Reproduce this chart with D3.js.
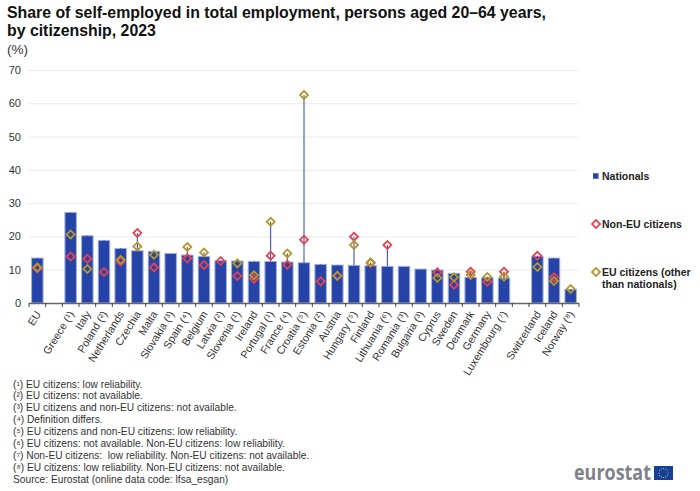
<!DOCTYPE html>
<html><head><meta charset="utf-8">
<script src="https://d3js.org/d3.v7.min.js"></script>
<style>html,body{margin:0;padding:0;background:#fff}svg{display:block}text{font-family:"Liberation Sans",Arial,sans-serif;white-space:pre}</style>
</head><body><svg id="c" width="700" height="491"></svg>
<script>
const categories=["EU","","Greece (¹)","Italy","Poland (²)","Netherlands","Czechia","Malta","Slovakia (³)","Spain (⁴)","Belgium","Latvia (²)","Slovenia (¹)","Ireland","Portugal (¹)","France (⁴)","Croatia (⁵)","Estonia (²)","Austria","Hungary (⁵)","Finland","Lithuania (⁶)","Romania (³)","Bulgaria (³)","Cyprus","Sweden","Denmark","Germany","Luxembourg (⁷)"," ","Switzerland","Iceland","Norway (⁸)"];
const nationals=[13.5,null,27.2,20.2,18.8,16.4,15.7,15.5,14.9,14.4,14,12.7,12.6,12.5,12.5,12.3,12.1,11.6,11.4,11.3,11.2,11,11,10.2,9.9,8.9,7.7,7.6,7.5,null,14,13.5,4.1];
const nonEU=[10.4,null,14,13.3,9.3,12.5,21,10.7,null,13.4,11.4,12.6,8.1,7.3,14.2,11.5,19,6.5,8.1,19.9,12,17.4,null,null,9.2,5.5,9.4,6.4,9.4,null,14.2,7.7,null];
const euCitizens=[10.7,null,20.6,10.2,null,13,17,14.5,null,16.8,15.2,null,11.9,8.3,24.4,14.9,62.5,null,8.2,17.4,12.2,null,null,null,7.5,7.7,8.4,7.8,7.9,null,10.8,6.6,4.2];
const yTicks=[0,10,20,30,40,50,60,70];
const titleLines=["Share of self-employed in total employment, persons aged 20–64 years,","by citizenship, 2023"];
const unitLabel="(%)";
const notes=["(¹) EU citizens: low reliability.","(²) EU citizens: not available.","(³) EU citizens and non-EU citizens: not available.","(⁴) Definition differs.","(⁵) EU citizens and non-EU citizens: low reliability.","(⁶) EU citizens: not available. Non-EU citizens: low reliability.","(⁷) Non-EU citizens:  low reliability. Non-EU citizens: not available.","(⁸) EU citizens: low reliability. Non-EU citizens: not available.","Source: Eurostat (online data code: lfsa_esgan)"];
const legendItems=[{k:"bar",t:["Nationals"],y:176},{k:"non",t:["Non-EU citizens"],y:224},{k:"eu",t:["EU citizens (other","than nationals)"],y:272}];

const BLUE="#2644a7",RED="#e84050",GOLD="#b5962a",TXT="#333";
const svg=d3.select("#c");
const x=d3.scaleBand().domain(categories).range([29,579]).padding(0);
const y=d3.scaleLinear().domain([0,70]).range([303,70]);

svg.append("g").selectAll("text").data(titleLines).join("text")
 .attr("x",7).attr("y",(d,i)=>18+i*18).attr("font-size",15.85).attr("font-weight","bold").attr("fill","#111").text(d=>d);
svg.append("text").attr("x",7).attr("y",54).attr("font-size",13.5).attr("fill",TXT).text(unitLabel);

const yAxis=d3.axisLeft(y).tickValues(yTicks).tickSize(0).tickPadding(8);
const gy=svg.append("g").attr("transform","translate(29,0)").call(yAxis);
gy.select(".domain").remove();
gy.selectAll("text").attr("font-size",11).attr("fill",TXT).style("font-family",'"Liberation Sans",Arial,sans-serif');
svg.append("g").selectAll("line").data(yTicks.filter(d=>d>0)).join("line")
 .attr("x1",29).attr("x2",579).attr("y1",d=>y(d)+.5).attr("y2",d=>y(d)+.5)
 .attr("stroke","#d9d9d9").attr("stroke-width",1).attr("stroke-dasharray","1 1");

const cx=(d)=>x(d)+x.bandwidth()/2;
svg.append("g").selectAll("rect").data(categories.map((c,i)=>({c,v:nationals[i]})).filter(d=>d.v!=null)).join("rect")
 .attr("x",d=>cx(d.c)-5.75).attr("width",11.5).attr("y",d=>y(d.v)).attr("height",d=>y(0)-y(d.v))
 .attr("fill",BLUE).attr("stroke","#9fb0dc").attr("stroke-width",1);

// high-low connectors
const rows=categories.map((c,i)=>({c,vals:[nationals[i],nonEU[i],euCitizens[i]].filter(v=>v!=null)})).filter(d=>d.vals.length>1);
svg.append("g").selectAll("line").data(rows).join("line")
 .attr("x1",d=>cx(d.c)).attr("x2",d=>cx(d.c))
 .attr("y1",d=>y(d3.min(d.vals))).attr("y2",d=>y(d3.max(d.vals)))
 .attr("stroke",BLUE).attr("stroke-width",1);

// x axis
const xl=svg.append("g");
xl.append("line").attr("x1",29).attr("x2",579).attr("y1",303.5).attr("y2",303.5).attr("stroke","#666").attr("stroke-width",1.5);
xl.selectAll(".t").data(d3.range(categories.length+1)).join("line").attr("class","t")
 .attr("x1",i=>29+i*x.step()).attr("x2",i=>29+i*x.step()).attr("y1",303).attr("y2",307).attr("stroke","#444").attr("stroke-width",1);
xl.selectAll(".l").data(categories.filter(c=>c.trim()!=="")).join("text").attr("class","l")
 .attr("text-anchor","end").attr("font-size",10.7).attr("fill",TXT)
 .attr("transform",d=>`translate(${cx(d)+4},${314}) rotate(-58)`).text(d=>d);

const diamond=d3.symbol().type(d3.symbolSquare).size(32);
function markers(arr,col){
 svg.append("g").selectAll("path").data(categories.map((c,i)=>({c,v:arr[i]})).filter(d=>d.v!=null)).join("path")
  .attr("d",diamond).attr("transform",d=>`translate(${cx(d.c)},${y(d.v)}) rotate(45)`)
  .attr("fill","none").attr("stroke",col).attr("stroke-width",1.8);
}
markers(nonEU,RED);
markers(euCitizens,GOLD);

// legend
const lg=svg.append("g");
legendItems.forEach(it=>{
 if(it.k==="bar") lg.append("rect").attr("x",593).attr("y",it.y-2.75).attr("width",5.5).attr("height",5.5).attr("fill",BLUE);
 else lg.append("path").attr("d",diamond).attr("transform",`translate(596,${it.y}) rotate(45)`).attr("fill","none").attr("stroke",it.k==="non"?RED:GOLD).attr("stroke-width",1.8);
 it.t.forEach((s,i)=>lg.append("text").attr("x",602).attr("y",it.y+4+i*12).attr("font-size",10.5).attr("font-weight","bold").attr("fill","#222").text(s));
});

// notes
svg.append("g").selectAll("text").data(notes).join("text")
 .attr("x",13).attr("y",(d,i)=>387.5+i*11.9).attr("font-size",10.2).attr("fill",TXT).text(d=>d);

// logo
svg.append("text").attr("x",574).attr("y",480).attr("font-size",22).attr("font-weight","bold").attr("fill","#7f8289").attr("textLength",77).attr("lengthAdjust","spacingAndGlyphs").style("font-family",'"Open Sans","Liberation Sans",sans-serif').text("eurostat");
svg.append("rect").attr("x",654).attr("y",466).attr("width",19).attr("height",14).attr("fill","#12409c");
svg.append("g").selectAll("circle").data(d3.range(12)).join("circle")
 .attr("cx",i=>663.5+4.5*Math.cos(i*Math.PI/6)).attr("cy",i=>473+4.5*Math.sin(i*Math.PI/6)).attr("r",.55).attr("fill","#e8c840");
</script></body></html>
